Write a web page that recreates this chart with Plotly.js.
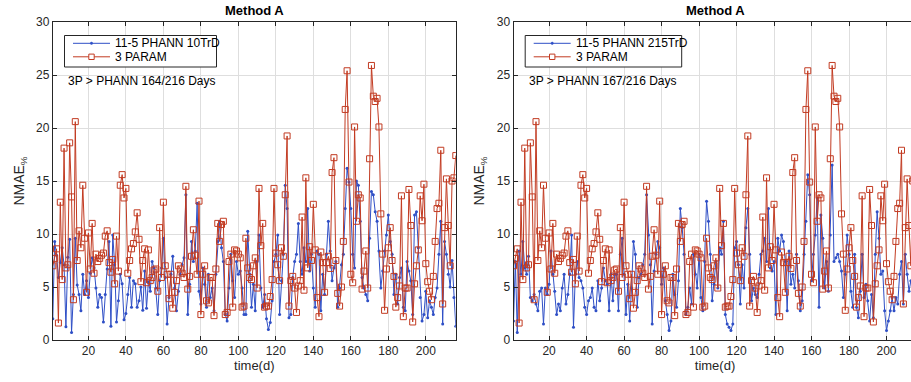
<!DOCTYPE html>
<html>
<head>
<meta charset="utf-8">
<script src="https://cdn.plot.ly/plotly-3.0.1.min.js"></script>
<style>
html, body { margin: 0; padding: 0; overflow: hidden; background: #fff; }
#chart { width: 918px; height: 382px; }
</style>
</head>
<body>
<div id="chart"></div>
<script>
// ---- data ----
const threeParam = [
  7.0, 7.7, 8.6, 1.6, 13.0, 5.7, 18.1, 6.8, 7.1, 18.6, 13.5, 3.8, 20.6, 7.5, 10.3, 8.7, 14.6, 9.6, 4.5, 10.1,
  6.7, 11.0, 6.3, 8.1, 7.4, 7.7, 8.0, 8.2, 9.8, 10.3, 7.3, 6.4, 7.6, 5.3, 9.8, 6.5, 14.6, 15.6, 13.4, 14.3,
  6.3, 7.5, 8.6, 9.1, 10.2, 12.0, 9.5, 5.5, 7.5, 8.6, 5.4, 8.5,
  5.6, 5.9, 6.6, 6.7, 4.6, 10.6, 5.9, 13.0, 7.0, 6.2, 3.9, 6.2, 3.0, 4.5, 5.6, 7.0, 6.7, 6.3, 5.9, 14.5,
  4.8, 6.0, 7.9, 10.4, 8.0, 6.2, 13.1, 2.4, 6.2, 7.0, 3.7, 3.5, 5.9, 5.9, 2.3, 6.7, 11.0, 9.3, 10.9, 11.2,
  2.4, 2.6, 7.4, 8.1, 3.1, 8.5, 8.4, 8.1, 7.75, 3.1, 3.2, 9.6, 6.8,
  5.9, 5.7, 7.0, 7.75, 4.9, 14.3, 8.9, 11.0, 3.1, 3.2, 3.2, 4.1, 5.7, 14.3, 8.2, 7.1, 5.6, 8.7, 7.9, 13.7,
  19.25, 3.2, 5.6, 6.0, 4.9, 2.6, 5.1, 5.6, 11.6, 4.7, 15.3, 6.8, 8.8, 7.5, 12.8, 8.5, 4.0, 2.2, 8.3, 7.3,
  4.5, 7.3, 7.9, 6.75, 15.8, 17.2, 7.5, 4.4, 3.2, 5.0, 9.3, 21.75, 25.4,
  14.9, 6.2, 5.4, 20.1, 11.2, 13.7, 13.4, 4.8, 6.5, 8.4, 4.9, 17.1, 25.9, 23.0, 22.5, 22.8, 20.1, 11.9, 8.1, 2.8,
  6.7, 8.7, 10.6, 7.5, 6.0, 3.1, 4.0, 5.1, 13.6, 2.2, 4.9, 4.9, 14.2, 10.8, 1.7, 5.3, 7.0, 8.5, 13.6, 11.25,
  14.7, 7.2, 5.5, 4.6, 3.8, 6.0, 9.3, 12.4, 12.9, 17.9, 3.4, 10.6, 15.2, 10.8, 7.0, 15.0, 15.3, 17.4
];

const phann10 = [
  2.0, 9.3, 8.0, 5.9, 7.3, 8.7, 7.1, 1.25, 7.8, 9.5, 0.7, 4.3, 9.6, 5.2, 4.3, 2.75, 6.2, 4.3, 5.6, 4.0,
  6.3, 7.75, 6.8, 4.9, 3.1, 4.3, 4.0, 1.7, 4.3, 6.7, 9.3, 1.3, 9.9, 7.1, 1.7, 3.7, 6.2, 5.3, 1.9, 2.5,
  4.3, 5.9, 3.1, 5.6, 5.3, 3.1, 3.7, 5.0, 2.8, 6.5, 3.0, 5.5,
  4.6, 7.4, 6.8, 4.9, 2.4, 5.6, 6.8, 9.6, 5.9, 1.5, 4.0, 6.2, 7.9, 4.9, 2.75, 4.6, 6.2, 7.1, 7.75, 13.7,
  2.4, 5.25, 9.3, 7.4, 8.4, 12.9, 4.6, 3.4, 6.8, 5.25, 3.1, 6.2, 4.0, 4.9, 2.75, 6.2, 9.3, 11.2, 8.7, 7.4,
  2.4, 1.8, 4.9, 8.1, 5.6, 4.0, 7.4, 6.2, 6.5, 4.9, 2.4, 2.4, 10.25, 6.2,
  3.1, 5.25, 2.75, 7.4, 9.9, 4.9, 3.1, 4.3, 2.0, 1.0, 1.65, 3.7, 7.4, 8.1, 9.9, 2.4, 5.6, 8.1, 14.6, 12.4,
  2.1, 2.4, 5.9, 7.4, 8.1, 11.0, 7.4, 6.2, 8.7, 7.4, 12.4, 6.5, 8.1, 4.9, 3.1, 8.4, 8.1, 2.75, 6.2, 4.3,
  8.1, 11.2, 8.4, 5.6, 6.8, 7.4, 3.1, 4.9, 7.1, 8.1, 12.4, 16.2, 14.9,
  12.4, 8.1, 6.8, 15.0, 14.6, 11.2, 5.9, 4.9, 4.3, 3.7, 9.6, 14.0, 13.7, 12.1, 11.2, 8.4, 4.9, 6.5, 8.4, 9.9,
  11.8, 9.3, 8.1, 4.3, 6.2, 3.4, 5.9, 6.8, 3.1, 2.75, 7.4, 6.5, 5.6, 2.4, 11.8, 12.1, 8.7, 4.0, 1.8, 2.4,
  4.6, 2.1, 3.7, 3.1, 2.4, 4.0, 4.9, 8.1, 11.2, 1.5, 9.3, 8.1, 6.2, 5.0, 7.5, 4.0, 1.3
];

const phann215 = [
  1.8, 7.4, 0.7, 8.4, 6.2, 9.3, 6.8, 6.2, 7.9, 4.0, 3.7, 4.3, 3.4, 2.75, 4.6, 4.9, 1.5, 4.9, 4.3, 5.25,
  8.4, 6.2, 4.6, 2.4, 3.4, 2.75, 4.9, 6.2, 3.4, 4.3, 6.2, 9.9, 1.2, 6.2, 7.4, 5.9, 5.6, 4.9, 3.1, 2.4,
  3.7, 4.0, 4.9, 3.1, 2.75, 5.6, 3.7, 4.9, 6.8, 5.6, 5.25, 2.75, 6.2,
  3.7, 6.2, 6.2, 2.75, 8.1, 9.6, 6.2, 2.4, 5.25, 1.8, 4.9, 9.3, 8.1, 3.1, 5.9, 6.2, 7.1, 8.1, 13.7, 9.9,
  7.1, 1.5, 6.5, 8.1, 9.3, 8.7, 5.25, 6.8, 3.7, 2.4, 0.9, 1.8, 6.2, 4.3, 3.1, 5.6, 12.4, 10.6, 8.1, 2.4,
  3.1, 4.9, 3.4, 8.1, 6.2, 4.9, 8.1, 4.0, 2.75, 7.4, 13.1, 11.2, 8.1,
  3.7, 5.25, 7.4, 4.9, 8.7, 8.1, 11.2, 2.4, 1.5, 1.2, 0.9, 1.5, 8.7, 9.3, 7.1, 3.4, 7.1, 4.9, 10.6, 12.4,
  8.1, 3.7, 4.9, 4.3, 4.0, 6.2, 8.1, 8.4, 9.6, 7.4, 12.4, 6.8, 6.5, 7.4, 2.4, 9.6, 8.4, 9.9, 9.3, 7.4,
  2.75, 8.4, 5.25, 6.2, 4.9, 8.1, 5.6, 2.75, 3.7, 8.1, 11.2, 15.6, 13.7,
  5.6, 8.1, 9.9, 13.4, 3.1, 11.8, 9.6, 4.9, 7.4, 4.6, 9.9, 16.5, 7.4, 7.75, 8.1, 7.4, 6.5, 4.0, 6.2, 9.9,
  8.1, 4.6, 3.1, 8.1, 3.1, 2.1, 4.6, 8.1, 4.0, 5.25, 3.7, 1.8, 4.3, 2.1, 8.1, 12.1, 9.6, 6.2, 6.5, 2.75,
  0.9, 1.8, 2.75, 4.0, 2.75, 4.0, 3.4, 6.2, 7.4, 3.4, 8.1, 6.2, 4.6, 5.6, 5.0, 4.5, 6.0
];

const days = threeParam.map((_, i) => i + 1);
const xTicks = [20, 40, 60, 80, 100, 120, 140, 160, 180, 200];
const yTicks = [0, 5, 10, 15, 20, 25, 30];
const titles = ['Method A', 'Method A'];
const blueNames = ['11-5 PHANN 10TrD', '11-5 PHANN 215TrD'];
const redName = '3 PARAM';
const notes = ['3P &gt; PHANN 164/216 Days', '3P &gt; PHANN 167/216 Days'];

// ---- styling ----
const W = 918, H = 382;
const FONT = 'Liberation Sans, Arial, Helvetica, sans-serif';
const BLUE = '#2f4fc6';
const RED = '#c23b22';
const INK = '#262626';
const GRID = '#dedede';
const px = v => v / W;
const py = v => (H - v) / H;
const xDom = [[px(52.8), px(455.8)], [px(513.5), px(916.5)]];
const yDom = [py(340), py(22)];
const panelShift = [0, 460.7];
const legendRight = [216.5, 221];

function blueTrace(y, xa, ya, name) {
  return { x: days, y: y, xaxis: xa, yaxis: ya, name: name,
    type: 'scatter', mode: 'lines+markers', showlegend: false,
    line: { color: BLUE, width: 1 },
    marker: { color: BLUE, size: 3, symbol: 'circle' } };
}
function redTrace(y, xa, ya) {
  return { x: days, y: y, xaxis: xa, yaxis: ya, name: redName,
    type: 'scatter', mode: 'lines+markers', showlegend: false,
    line: { color: RED, width: 1 },
    marker: { color: RED, size: 6, symbol: 'square-open', line: { color: RED, width: 1 } } };
}

const data = [
  blueTrace(phann10, 'x', 'y', blueNames[0]),
  redTrace(threeParam, 'x', 'y'),
  blueTrace(phann215, 'x2', 'y2', blueNames[1]),
  redTrace(threeParam, 'x2', 'y2')
];

function xAxis(i) {
  return { domain: xDom[i], anchor: i ? 'y2' : 'y', range: [1, 216],
    tickvals: xTicks, ticks: 'inside', ticklen: 4, tickcolor: INK,
    showline: true, linecolor: INK, linewidth: 1, mirror: 'ticks',
    showgrid: true, gridcolor: GRID, gridwidth: 1, zeroline: false,
    tickfont: { family: FONT, size: 12, color: INK },
    title: { text: 'time(d)', font: { family: FONT, size: 13, color: INK }, standoff: 2 } };
}
function yAxis(i) {
  return { domain: yDom, anchor: i ? 'x2' : 'x', range: [0, 30],
    tickvals: yTicks, ticks: 'inside', ticklen: 4, tickcolor: INK,
    showline: true, linecolor: INK, linewidth: 1, mirror: 'ticks',
    showgrid: true, gridcolor: GRID, gridwidth: 1, zeroline: false,
    tickfont: { family: FONT, size: 12, color: INK },
    title: { text: 'NMAE<sub>%</sub>', font: { family: FONT, size: 14, color: INK }, standoff: 8 } };
}

// ---- titles, notes and hand-built legends (compact MATLAB-style boxes) ----
const annotations = [];
const shapes = [];
[0, 1].forEach(i => {
  const s = panelShift[i];
  annotations.push({ xref: 'paper', yref: 'paper', x: (xDom[i][0] + xDom[i][1]) / 2, y: py(11),
    text: '<b>' + titles[i] + '</b>', showarrow: false, xanchor: 'center', yanchor: 'middle',
    font: { family: FONT, size: 13, color: '#000' } });
  annotations.push({ xref: 'paper', yref: 'paper', x: px(66 + s), y: py(81),
    text: notes[i], showarrow: false, xanchor: 'left', yanchor: 'middle',
    font: { family: FONT, size: 12, color: '#000' } });
  shapes.push({ type: 'rect', xref: 'paper', yref: 'paper',
    x0: px(64.5 + s), x1: px(legendRight[i] + s), y0: py(67), y1: py(35.5),
    fillcolor: '#ffffff', line: { color: INK, width: 1 }, layer: 'above' });
  const rows = [
    { y: 43.3, color: BLUE, name: blueNames[i], sym: 'dot' },
    { y: 56.8, color: RED, name: redName, sym: 'square' }
  ];
  rows.forEach(r => {
    shapes.push({ type: 'line', xref: 'paper', yref: 'paper',
      x0: px(73 + s), x1: px(110 + s), y0: py(r.y), y1: py(r.y),
      line: { color: r.color, width: 1 }, layer: 'above' });
    if (r.sym === 'dot') {
      shapes.push({ type: 'circle', xref: 'paper', yref: 'paper',
        x0: px(90.3 + s), x1: px(92.7 + s), y0: py(r.y + 1.2), y1: py(r.y - 1.2),
        fillcolor: r.color, line: { color: r.color, width: 0.5 }, layer: 'above' });
    } else {
      shapes.push({ type: 'rect', xref: 'paper', yref: 'paper',
        x0: px(88.8 + s), x1: px(94.2 + s), y0: py(r.y + 2.7), y1: py(r.y - 2.7),
        fillcolor: '#ffffff', line: { color: r.color, width: 1 }, layer: 'above' });
    }
    annotations.push({ xref: 'paper', yref: 'paper', x: px(113 + s), y: py(r.y),
      text: r.name, showarrow: false, xanchor: 'left', yanchor: 'middle',
      font: { family: FONT, size: 12, color: '#000' } });
  });
});

const layout = {
  width: W, height: H, margin: { l: 0, r: 0, t: 0, b: 0 },
  paper_bgcolor: '#ffffff', plot_bgcolor: '#ffffff',
  showlegend: false,
  xaxis: xAxis(0), yaxis: yAxis(0), xaxis2: xAxis(1), yaxis2: yAxis(1),
  annotations: annotations, shapes: shapes
};

Plotly.newPlot('chart', data, layout, { displayModeBar: false, staticPlot: true });
</script>
</body>
</html>
